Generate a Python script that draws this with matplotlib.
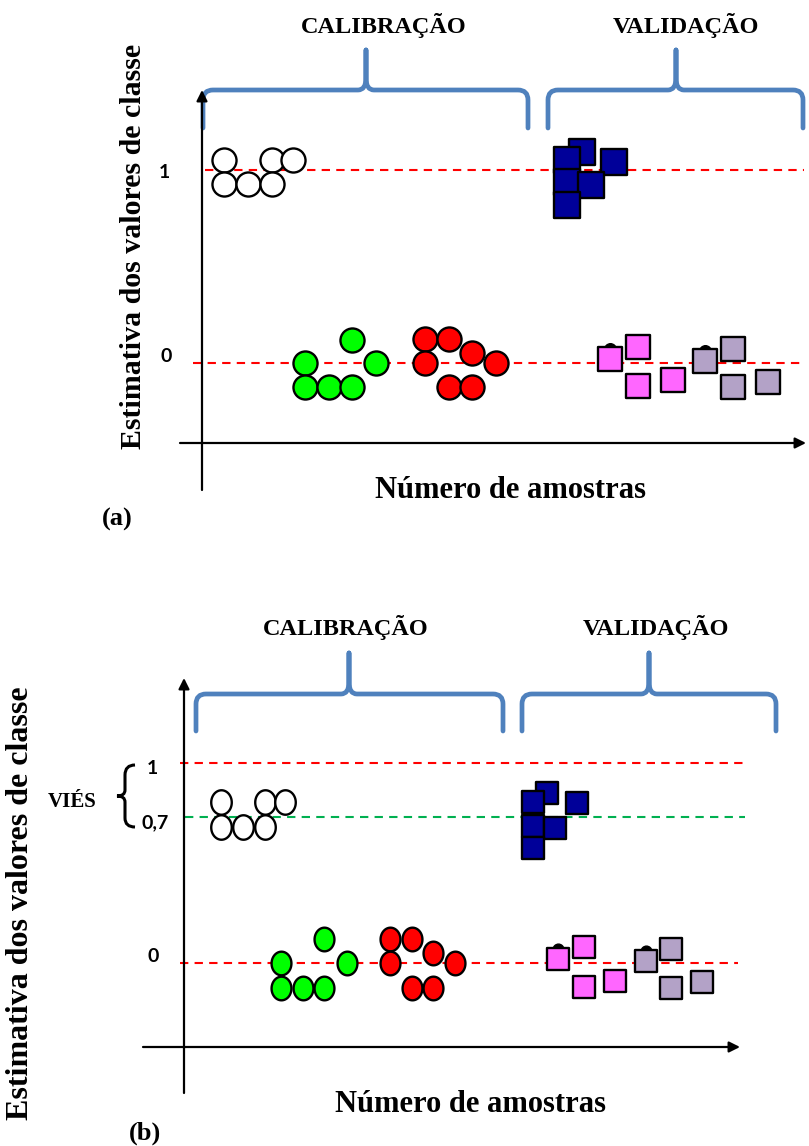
import numpy as np
import matplotlib
matplotlib.use('Agg')
from matplotlib import pyplot as plt
from matplotlib.path import Path
from matplotlib.patches import PathPatch
from matplotlib.markers import MarkerStyle

# ---- painel (a): posicao da amostra (x) e estimativa do valor de classe (y)
branco_a_x = [0.9, 2.9, 3.8, 0.9, 1.9, 2.9]
branco_a_y = [1.05, 1.05, 1.05, 0.93, 0.93, 0.93]
verde_a_x = [4.3, 6.25, 7.25, 4.3, 5.3, 6.25]
verde_a_y = [0.0, 0.12, 0.0, -0.125, -0.125, -0.125]
vermelho_a_x = [9.3, 10.3, 11.25, 12.25, 9.3, 10.3, 11.25]
vermelho_a_y = [0.125, 0.125, 0.05, 0.0, 0.0, -0.125, -0.125]
azul_a_x = [15.83, 15.21, 17.17, 15.21, 16.21, 15.21]
azul_a_y = [1.093, 1.052, 1.041, 0.938, 0.922, 0.819]
rosa_a_x = [17.0, 18.17, 18.17, 19.63]
rosa_a_y = [0.02, 0.083, -0.119, -0.088]
cinza_a_x = [20.96, 22.13, 22.13, 23.58]
cinza_a_y = [0.01, 0.073, -0.124, -0.098]
oculto_a_x = [17.0, 20.96]
oculto_a_y = [0.072, 0.062]

# ---- painel (b)
branco_b_x = [1.68, 3.68, 4.59, 1.68, 2.68, 3.68]
branco_b_y = [0.805, 0.805, 0.805, 0.68, 0.68, 0.68]
verde_b_x = [4.41, 6.36, 7.41, 4.41, 5.41, 6.36]
verde_b_y = [0.0, 0.12, 0.0, -0.125, -0.125, -0.125]
vermelho_b_x = [9.36, 10.36, 11.32, 12.32, 9.36, 10.36, 11.32]
vermelho_b_y = [0.12, 0.12, 0.05, 0.0, 0.0, -0.125, -0.125]
azul_b_x = [16.5, 15.86, 17.86, 15.86, 16.86, 15.86]
azul_b_y = [0.85, 0.805, 0.8, 0.685, 0.675, 0.575]
rosa_b_x = [17.0, 18.18, 18.18, 19.59]
rosa_b_y = [0.02, 0.08, -0.12, -0.09]
cinza_b_x = [21.0, 22.14, 22.14, 23.55]
cinza_b_y = [0.01, 0.07, -0.125, -0.095]
oculto_b_x = [17.0, 21.0]
oculto_b_y = [0.07, 0.06]

nivel_b = [1.0, 0.73, 0.0]
rotulos_b = ['1', '0,7', '0']

serif = 'Liberation Serif'
azul_chave = '#4f81bd'

fig = plt.figure(figsize=(8.09, 11.46), dpi=100)

# eixos de dados de cada painel
ax_a = fig.add_axes([0, 1 - 560/1146, 1, 560/1146])
ax_a.set_xlim(-202/24, (809-202)/24)
ax_a.set_ylim((363-560)/193, 363/193)
ax_b = fig.add_axes([0, 0, 1, 586/1146])
ax_b.set_xlim(-184/22, (809-184)/22)
ax_b.set_ylim((963-1146)/200, (963-560)/200)
for ax in (ax_a, ax_b):
    ax.axis('off')

t = np.linspace(0, 2*np.pi, 60)
elipse = MarkerStyle(Path(np.column_stack([0.42*np.cos(t), 0.5*np.sin(t)]), closed=True))

tr = (0, (4, 3))
borda = dict(edgecolor='black', lw=1.7, zorder=3)
# painel (a)
ax_a.plot([0.125, 25.1], [1, 1], color='#ff0000', lw=1.5, ls=tr, zorder=2)
ax_a.plot([-0.375, 25.1], [0, 0], color='#ff0000', lw=1.5, ls=tr, zorder=2)
ax_a.scatter(branco_a_x, branco_a_y, s=300, marker='o', facecolor='white', **borda)
ax_a.scatter(verde_a_x, verde_a_y, s=300, marker='o', facecolor='#00ff00', **borda)
ax_a.scatter(vermelho_a_x, vermelho_a_y, s=300, marker='o', facecolor='#ff0000', **borda)
ax_a.scatter(oculto_a_x, oculto_a_y, s=70, marker='o', facecolor='black', edgecolor='black', zorder=2.5)
ax_a.scatter(azul_a_x, azul_a_y, s=340, marker='s', facecolor='#000099', **borda)
ax_a.scatter(rosa_a_x, rosa_a_y, s=300, marker='s', facecolor='#ff66ff', **borda)
ax_a.scatter(cinza_a_x, cinza_a_y, s=300, marker='s', facecolor='#b3a2c7', **borda)

# painel (b)
ax_b.plot([-0.18, 25.6], [nivel_b[0]]*2, color='#ff0000', lw=1.5, ls=tr, zorder=2)
ax_b.plot([0.05, 25.5], [nivel_b[1]]*2, color='#00b050', lw=1.5, ls=tr, zorder=2)
ax_b.plot([-0.18, 25.2], [nivel_b[2]]*2, color='#ff0000', lw=1.5, ls=tr, zorder=2)
ax_b.scatter(branco_b_x, branco_b_y, s=310, marker=elipse, facecolor='white', **borda)
ax_b.scatter(verde_b_x, verde_b_y, s=290, marker=elipse, facecolor='#00ff00', **borda)
ax_b.scatter(vermelho_b_x, vermelho_b_y, s=290, marker=elipse, facecolor='#ff0000', **borda)
ax_b.scatter(oculto_b_x, oculto_b_y, s=60, marker='o', facecolor='black', edgecolor='black', zorder=2.5)
ax_b.scatter(azul_b_x, azul_b_y, s=270, marker='s', facecolor='#000099', **borda)
ax_b.scatter(rosa_b_x, rosa_b_y, s=250, marker='s', facecolor='#ff66ff', **borda)
ax_b.scatter(cinza_b_x, cinza_b_y, s=250, marker='s', facecolor='#b3a2c7', **borda)

# camada de desenho em pixels para setas, chaves e textos
ov = fig.add_axes([0, 0, 1, 1], facecolor='none')
ov.set_xlim(0, 809)
ov.set_ylim(1146, 0)
ov.axis('off')


def seta(x0, y0, x1, y1):
    ov.annotate('', xy=(x1, y1), xytext=(x0, y0),
                arrowprops=dict(arrowstyle='-|>', color='black', lw=1.6,
                                mutation_scale=16, shrinkA=0, shrinkB=0))


def chave(x0, x1, xm, y_fim, y_barra, y_pico, cor=azul_chave, lw=3.4):
    r = 10
    verts = [(x0, y_fim), (x0, y_barra + r), (x0, y_barra), (x0 + r, y_barra),
             (xm - 8, y_barra), (xm, y_barra), (xm, y_barra - 12), (xm, y_pico),
             (xm, y_barra - 12), (xm, y_barra), (xm + 8, y_barra),
             (x1 - r, y_barra), (x1, y_barra), (x1, y_barra + r), (x1, y_fim)]
    codes = [Path.MOVETO, Path.LINETO, Path.CURVE3, Path.CURVE3, Path.LINETO,
             Path.CURVE3, Path.CURVE3, Path.LINETO, Path.LINETO, Path.CURVE3,
             Path.CURVE3, Path.LINETO, Path.CURVE3, Path.CURVE3, Path.LINETO]
    ov.add_patch(PathPatch(Path(verts, codes), facecolor='none', edgecolor=cor,
                           lw=lw, capstyle='round', joinstyle='round'))


# eixos (a)
seta(202, 490, 202, 90)
seta(180, 443, 806, 443)
# eixos (b)
seta(184, 1093, 184, 678)
seta(143, 1047, 740, 1047)

chave(203, 528, 366, 128, 90, 50)
chave(548, 803, 676, 128, 90, 50)
chave(196, 503, 349, 731, 694, 653)
chave(522, 776, 649, 731, 694, 653)

# chave do vies
vv = [(135, 765), (125, 765), (125, 775), (125, 790), (125, 796), (117, 796),
      (125, 796), (125, 802), (125, 818), (125, 827), (135, 827)]
cc = [Path.MOVETO, Path.CURVE3, Path.CURVE3, Path.LINETO, Path.CURVE3, Path.CURVE3,
      Path.CURVE3, Path.CURVE3, Path.LINETO, Path.CURVE3, Path.CURVE3]
ov.add_patch(PathPatch(Path(vv, cc), facecolor='none', edgecolor='black', lw=2.2,
                       capstyle='butt'))

tb = dict(family=serif, fontweight='bold', ha='center', va='center', color='black')
ov.text(384, 25, 'CALIBRAÇÃO', fontsize=17.5, **tb)
ov.text(686, 25, 'VALIDAÇÃO', fontsize=17.5, **tb)
ov.text(346, 627, 'CALIBRAÇÃO', fontsize=17.5, **tb)
ov.text(656, 627, 'VALIDAÇÃO', fontsize=17.5, **tb)
ov.text(134, 246, 'Estimativa dos valores de classe', fontsize=21.5, rotation=90, **tb)
ov.text(21, 903, 'Estimativa dos valores de classe', fontsize=23, rotation=90, **tb)
ov.text(511, 490, 'Número de amostras', fontsize=22, **tb)
ov.text(471, 1105, 'Número de amostras', fontsize=22, **tb)
ov.text(117, 519, '(a)', fontsize=19, **tb)
ov.text(145, 1133, '(b)', fontsize=19, **tb)
ov.text(72, 802, 'VIÉS', fontsize=15, **tb)

tn = dict(family='Lato', fontweight='bold', ha='center', va='center', color='black', fontsize=14)
ov.text(164, 173, '1', **tn)
ov.text(166, 357, '0', **tn)
ov.text(152, 768, rotulos_b[0], **tn)
ov.text(155, 823, rotulos_b[1], **tn)
ov.text(153, 957, rotulos_b[2], **tn)

fig.savefig('out.png', dpi=100)
